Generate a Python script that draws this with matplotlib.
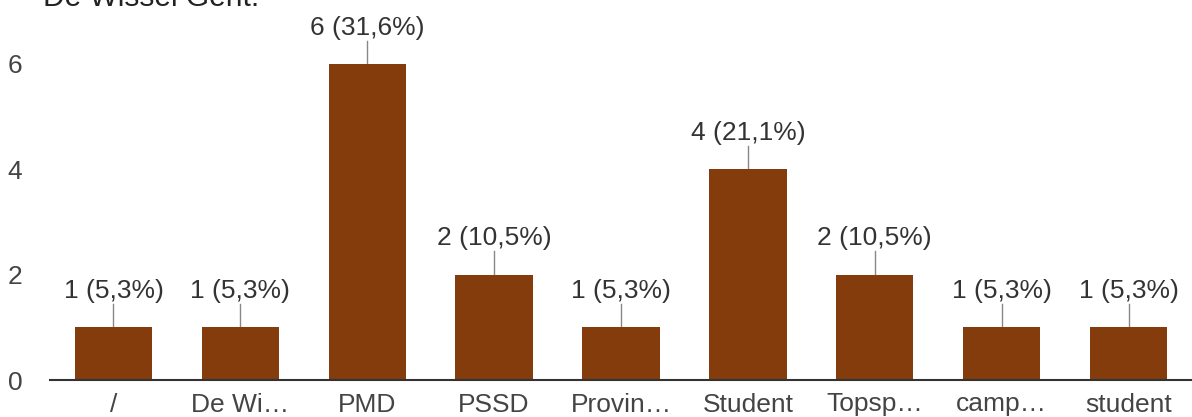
import matplotlib.pyplot as plt
import numpy as np

plt.rcParams['font.family'] = ['Liberation Sans', 'DejaVu Sans']

categories = ["/", "De Wi…", "PMD", "PSSD", "Provin…", "Student", "Topsp…", "camp…", "student"]
counts = [1, 1, 6, 2, 1, 4, 2, 1, 1]
labels = ["1 (5,3%)", "1 (5,3%)", "6 (31,6%)", "2 (10,5%)", "1 (5,3%)",
          "4 (21,1%)", "2 (10,5%)", "1 (5,3%)", "1 (5,3%)"]
yticks = [0, 2, 4, 6]

W, H = 1192, 417
fig = plt.figure(figsize=(W / 100, H / 100), dpi=100)
ax = fig.add_axes([50 / W, (H - 380) / H, 1 - 50 / W, 380 / H])

x = np.arange(len(categories))
ax.bar(x, counts, 0.61, color='#843c0c', zorder=2)

for xi, c, lab in zip(x, counts, labels):
    ax.plot([xi, xi], [c, c + 0.44], color='#888888', lw=1, zorder=1)
    ax.text(xi, c + 0.46, lab, ha='center', va='bottom', fontsize=19, color='#333333')

ax.set_xlim(-0.5, len(categories) - 0.5)
ax.set_ylim(0, 380 / 52.7)
ax.set_xticks(x, categories)
ax.set_yticks(yticks)
ax.tick_params(axis='both', length=0, labelsize=19, colors='#444444')
ax.tick_params(axis='x', pad=9)
ax.tick_params(axis='y', pad=20)

for s in ['top', 'right', 'left']:
    ax.spines[s].set_visible(False)
ax.spines['bottom'].set_color('#333333')
ax.spines['bottom'].set_linewidth(1.5)

fig.text(43 / W, 1 - 6 / H, "De Wissel Gent.", fontsize=21.5, color='#222222',
         ha='left', va='baseline')

fig.savefig("out.png", dpi=100)
